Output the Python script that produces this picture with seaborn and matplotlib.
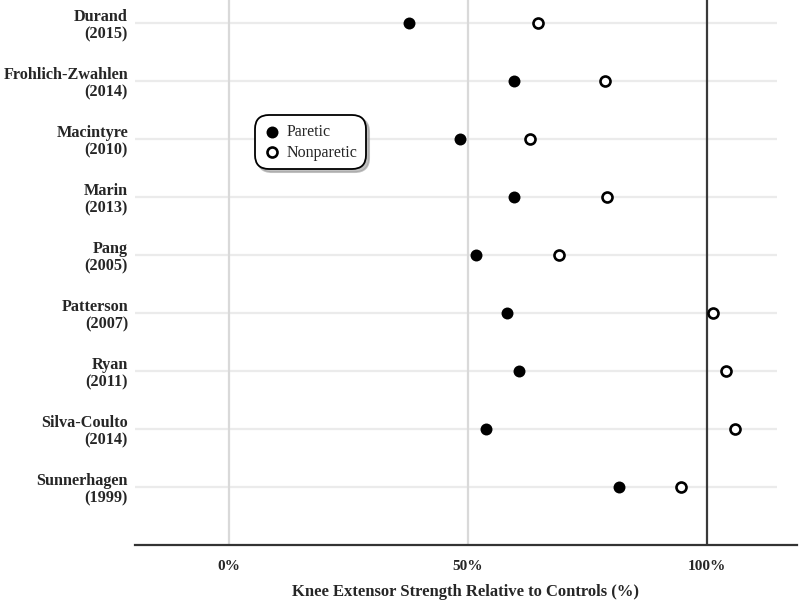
import matplotlib
matplotlib.use("Agg")
import matplotlib.pyplot as plt
import numpy as np
import pandas as pd
import seaborn as sns

# Data
studies = ["Durand", "Frohlich-Zwahlen", "Macintyre", "Marin", "Pang",
           "Patterson", "Ryan", "Silva-Coulto", "Sunnerhagen"]
years = ["2015", "2014", "2010", "2013", "2005", "2007", "2011", "2014", "1999"]
paretic = [37.7, 59.6, 48.3, 59.6, 51.7, 58.2, 60.7, 53.8, 81.5]
nonparetic = [64.6, 78.7, 63.0, 79.1, 69.0, 101.2, 104.0, 105.9, 94.6]
x_ticks = [0, 50, 100]
x_tick_labels = ["0%", "50%", "100%"]

labels = [f"{s}\n({y})" for s, y in zip(studies, years)]
df = pd.DataFrame({"study": labels, "Paretic": paretic, "Nonparetic": nonparetic})

sns.set_style("white")
plt.rcParams["font.family"] = ["Liberation Serif", "DejaVu Serif"]

fig = plt.figure(figsize=(8, 6.04), dpi=100)
ax = fig.add_axes([0.16875, 0.0977, 0.827, 0.9023])

# reference lines / grid
n = len(labels)
ax.hlines(np.arange(n), -19.6, 114.7, color="#ebebeb", lw=1.6, zorder=0)
ax.axvline(0, color="#d9d9d9", lw=1.6, zorder=0)
ax.axvline(50, color="#d9d9d9", lw=1.6, zorder=0)
ax.axvline(100, color="#3a3a3a", lw=1.6, zorder=1)

sns.stripplot(data=df, x="Paretic", y="study", order=labels, jitter=False,
              color="black", size=8.6, linewidth=0, ax=ax, label="Paretic",
              zorder=3)
sns.stripplot(data=df, x="Nonparetic", y="study", order=labels, jitter=False,
              color="white", edgecolor="black", size=7.2, linewidth=1.9,
              ax=ax, label="Nonparetic", zorder=3)

ax.set_xlim(-19.6, 118.7)
ax.set_ylim(9.0, -0.4)

for side in ["top", "right", "left"]:
    ax.spines[side].set_visible(False)
ax.spines["bottom"].set_color("#333333")
ax.spines["bottom"].set_linewidth(1.6)

ax.set_xticks(x_ticks)
ax.set_xticklabels(x_tick_labels, fontsize=11, fontweight="bold")
ax.tick_params(axis="x", length=0, pad=11)
ax.tick_params(axis="y", length=0, pad=5)
for t in ax.get_yticklabels():
    t.set_fontsize(11.7)
    t.set_fontweight("bold")
    t.set_multialignment("right")
    t.set_linespacing(1.1)

ax.set_ylabel("")
ax.set_xlabel("Knee Extensor Strength Relative to Controls (%)",
              fontsize=12, fontweight="bold", labelpad=8)

# legend: keep one handle per series
handles, lbls = ax.get_legend_handles_labels()
seen = {}
for h, l in zip(handles, lbls):
    seen.setdefault(l, h)
leg = ax.legend(seen.values(), seen.keys(), loc="upper left",
                bbox_to_anchor=(0.181, 0.789), borderaxespad=0,
                fancybox=True, shadow={"color": "#999999", "alpha": 0.6},
                frameon=True, fontsize=11.5, handletextpad=0.35,
                borderpad=0.55, labelspacing=0.3, handlelength=1.1)
frame = leg.get_frame()
frame.set_edgecolor("black")
frame.set_linewidth(1.3)
frame.set_boxstyle("round,pad=0,rounding_size=0.9")

fig.savefig("out.png", dpi=100)
